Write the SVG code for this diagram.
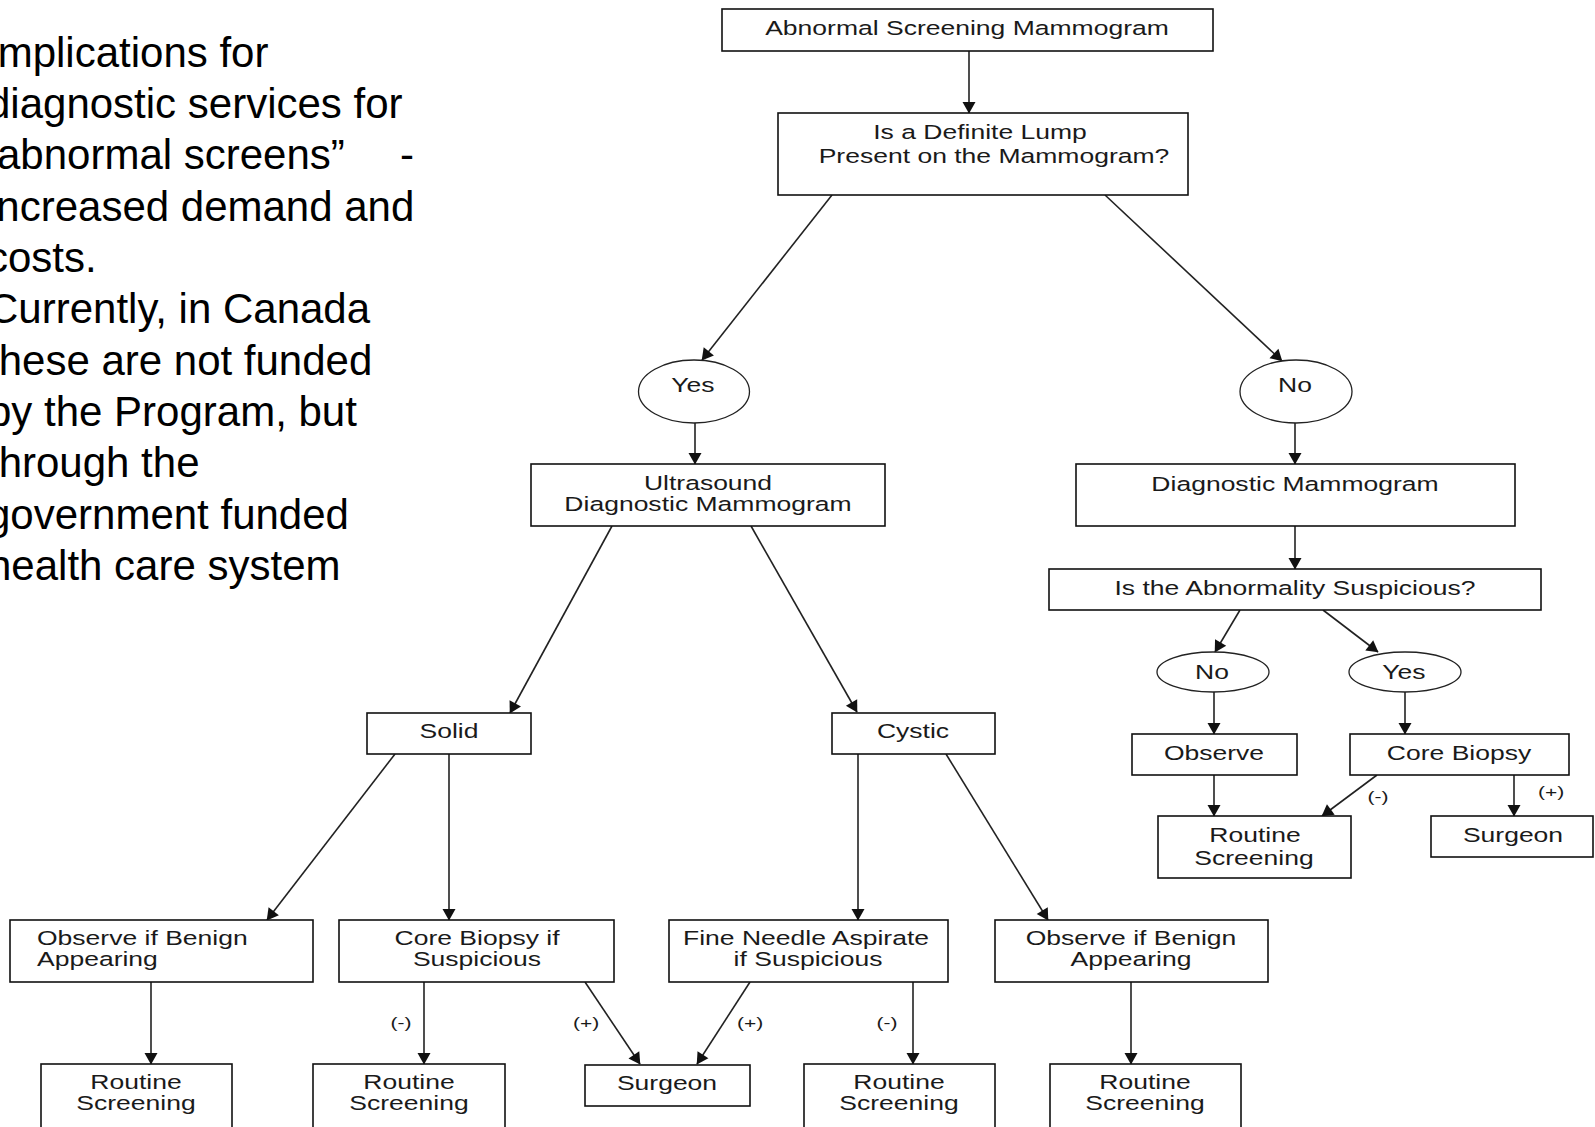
<svg xmlns="http://www.w3.org/2000/svg" width="1595" height="1127" viewBox="0 0 1595 1127">
<style>
.box{fill:#fff;stroke:#111;stroke-width:1.6}
.ell{fill:#fff;stroke:#222;stroke-width:1.3}
.t{font-family:"Liberation Sans",Arial,sans-serif;font-size:19.5px;fill:#1a1a1a;text-anchor:middle}
.tl{font-family:"Liberation Sans",Arial,sans-serif;font-size:19.5px;fill:#1a1a1a;text-anchor:start}
.lb{font-family:"Liberation Sans",Arial,sans-serif;font-size:14px;fill:#1a1a1a;text-anchor:middle}
.p{font-family:"Liberation Sans",Arial,sans-serif;font-size:42px;fill:#000;text-anchor:start}
.c{stroke:#222;stroke-width:1.6;fill:none;marker-end:url(#ah)}
</style>
<defs>
<marker id="ah" markerUnits="userSpaceOnUse" markerWidth="14" markerHeight="14" viewBox="0 -7 12 14" refX="11" refY="0" orient="auto">
<path d="M0,-6.5 L11.5,0 L0,6.5 z" fill="#111"/>
</marker>
</defs>
<rect width="1595" height="1127" fill="#fff"/>
<g id="slide-text">
<text class="p" x="-14" y="67">Implications for</text>
<text class="p" x="-13" y="118">diagnostic services for</text>
<text class="p" x="-3" y="169">abnormal screens”<tspan x="400">-</tspan></text>
<text class="p" x="-13" y="221">increased demand and</text>
<text class="p" x="-13" y="272">costs.</text>
<text class="p" x="-12" y="323">Currently, in Canada</text>
<text class="p" x="-13" y="375">these are not funded</text>
<text class="p" x="-12" y="426">by the Program, but</text>
<text class="p" x="-13" y="477">through the</text>
<text class="p" x="-13" y="529">government funded</text>
<text class="p" x="-12" y="580">health care system</text>
</g>
<g id="connectors">
<line class="c" x1="969" y1="51" x2="969" y2="113"/>
<line class="c" x1="832" y1="195" x2="702" y2="360"/>
<line class="c" x1="1105" y1="195" x2="1282" y2="361"/>
<line class="c" x1="695" y1="423" x2="695" y2="464"/>
<line class="c" x1="1295" y1="423" x2="1295" y2="464"/>
<line class="c" x1="1295" y1="526" x2="1295" y2="569"/>
<line class="c" x1="1240" y1="610" x2="1215" y2="652"/>
<line class="c" x1="1323" y1="610" x2="1378" y2="652"/>
<line class="c" x1="1214" y1="692" x2="1214" y2="734"/>
<line class="c" x1="1405" y1="692" x2="1405" y2="734"/>
<line class="c" x1="1214" y1="775" x2="1214" y2="816"/>
<line class="c" x1="1377" y1="775" x2="1322" y2="816"/>
<line class="c" x1="1514" y1="775" x2="1514" y2="816"/>
<line class="c" x1="612" y1="526" x2="510" y2="713"/>
<line class="c" x1="751" y1="526" x2="857" y2="712"/>
<line class="c" x1="395" y1="754" x2="267" y2="920"/>
<line class="c" x1="449" y1="754" x2="449" y2="920"/>
<line class="c" x1="858" y1="754" x2="858" y2="920"/>
<line class="c" x1="946" y1="754" x2="1048" y2="920"/>
<line class="c" x1="151" y1="982" x2="151" y2="1064"/>
<line class="c" x1="424" y1="982" x2="424" y2="1064"/>
<line class="c" x1="585" y1="982" x2="640" y2="1064"/>
<line class="c" x1="750" y1="982" x2="697" y2="1064"/>
<line class="c" x1="913" y1="982" x2="913" y2="1064"/>
<line class="c" x1="1131" y1="982" x2="1131" y2="1064"/>
<text class="lb" transform="translate(1378,802) scale(1.5,1)">(-)</text>
<text class="lb" transform="translate(1551,797) scale(1.5,1)">(+)</text>
<text class="lb" transform="translate(401,1028) scale(1.5,1)">(-)</text>
<text class="lb" transform="translate(586,1028) scale(1.5,1)">(+)</text>
<text class="lb" transform="translate(750,1028) scale(1.5,1)">(+)</text>
<text class="lb" transform="translate(887,1028) scale(1.5,1)">(-)</text>
</g>
<g id="n-abnormal"><rect class="box" x="722" y="9" width="491" height="42"/><text class="t" transform="translate(967,35) scale(1.36,1)">Abnormal Screening Mammogram</text></g>
<g id="n-lump"><rect class="box" x="778" y="113" width="410" height="82"/><text class="t" transform="translate(980,139) scale(1.36,1)">Is a Definite Lump</text><text class="t" transform="translate(994,163) scale(1.36,1)">Present on the Mammogram?</text></g>
<g id="n-yes1"><ellipse class="ell" cx="694" cy="391.5" rx="55.5" ry="31.5"/><text class="t" transform="translate(693,392) scale(1.36,1)">Yes</text></g>
<g id="n-no1"><ellipse class="ell" cx="1296" cy="391.5" rx="56" ry="31.5"/><text class="t" transform="translate(1295,392) scale(1.36,1)">No</text></g>
<g id="n-ultra"><rect class="box" x="531" y="464" width="354" height="62"/><text class="t" transform="translate(708,490) scale(1.36,1)">Ultrasound</text><text class="t" transform="translate(708,511) scale(1.36,1)">Diagnostic Mammogram</text></g>
<g id="n-diag"><rect class="box" x="1076" y="464" width="439" height="62"/><text class="t" transform="translate(1295,491) scale(1.36,1)">Diagnostic Mammogram</text></g>
<g id="n-susp"><rect class="box" x="1049" y="569" width="492" height="41"/><text class="t" transform="translate(1295,595) scale(1.36,1)">Is the Abnormality Suspicious?</text></g>
<g id="n-no2"><ellipse class="ell" cx="1213" cy="672" rx="56" ry="20"/><text class="t" transform="translate(1212,679) scale(1.36,1)">No</text></g>
<g id="n-yes2"><ellipse class="ell" cx="1405" cy="672" rx="56" ry="20"/><text class="t" transform="translate(1404,679) scale(1.36,1)">Yes</text></g>
<g id="n-observe"><rect class="box" x="1132" y="734" width="165" height="41"/><text class="t" transform="translate(1214,760) scale(1.36,1)">Observe</text></g>
<g id="n-core"><rect class="box" x="1350" y="734" width="219" height="41"/><text class="t" transform="translate(1459,760) scale(1.36,1)">Core Biopsy</text></g>
<g id="n-routine-r"><rect class="box" x="1158" y="816" width="193" height="62"/><text class="t" transform="translate(1255,842) scale(1.36,1)">Routine</text><text class="t" transform="translate(1254,865) scale(1.36,1)">Screening</text></g>
<g id="n-surgeon-r"><rect class="box" x="1431" y="816" width="162" height="41"/><text class="t" transform="translate(1513,842) scale(1.36,1)">Surgeon</text></g>
<g id="n-solid"><rect class="box" x="367" y="713" width="164" height="41"/><text class="t" transform="translate(449,738) scale(1.36,1)">Solid</text></g>
<g id="n-cystic"><rect class="box" x="832" y="713" width="163" height="41"/><text class="t" transform="translate(913,738) scale(1.36,1)">Cystic</text></g>
<g id="n-obs-l"><rect class="box" x="10" y="920" width="303" height="62"/><text class="tl" transform="translate(37,945) scale(1.36,1)">Observe if Benign</text><text class="tl" transform="translate(37,966) scale(1.36,1)">Appearing</text></g>
<g id="n-cbs"><rect class="box" x="339" y="920" width="275" height="62"/><text class="t" transform="translate(477,945) scale(1.36,1)">Core Biopsy if</text><text class="t" transform="translate(477,966) scale(1.36,1)">Suspicious</text></g>
<g id="n-fna"><rect class="box" x="669" y="920" width="279" height="62"/><text class="t" transform="translate(806,945) scale(1.36,1)">Fine Needle Aspirate</text><text class="t" transform="translate(808,966) scale(1.36,1)">if Suspicious</text></g>
<g id="n-obs-r"><rect class="box" x="995" y="920" width="273" height="62"/><text class="t" transform="translate(1131,945) scale(1.36,1)">Observe if Benign</text><text class="t" transform="translate(1131,966) scale(1.36,1)">Appearing</text></g>
<g id="n-rs1"><rect class="box" x="41" y="1064" width="191" height="80"/><text class="t" transform="translate(136,1089) scale(1.36,1)">Routine</text><text class="t" transform="translate(136,1110) scale(1.36,1)">Screening</text></g>
<g id="n-rs2"><rect class="box" x="313" y="1064" width="192" height="80"/><text class="t" transform="translate(409,1089) scale(1.36,1)">Routine</text><text class="t" transform="translate(409,1110) scale(1.36,1)">Screening</text></g>
<g id="n-surgeon"><rect class="box" x="585" y="1065" width="165" height="41"/><text class="t" transform="translate(667,1090) scale(1.36,1)">Surgeon</text></g>
<g id="n-rs3"><rect class="box" x="804" y="1064" width="191" height="80"/><text class="t" transform="translate(899,1089) scale(1.36,1)">Routine</text><text class="t" transform="translate(899,1110) scale(1.36,1)">Screening</text></g>
<g id="n-rs4"><rect class="box" x="1050" y="1064" width="191" height="80"/><text class="t" transform="translate(1145,1089) scale(1.36,1)">Routine</text><text class="t" transform="translate(1145,1110) scale(1.36,1)">Screening</text></g>
</svg>
